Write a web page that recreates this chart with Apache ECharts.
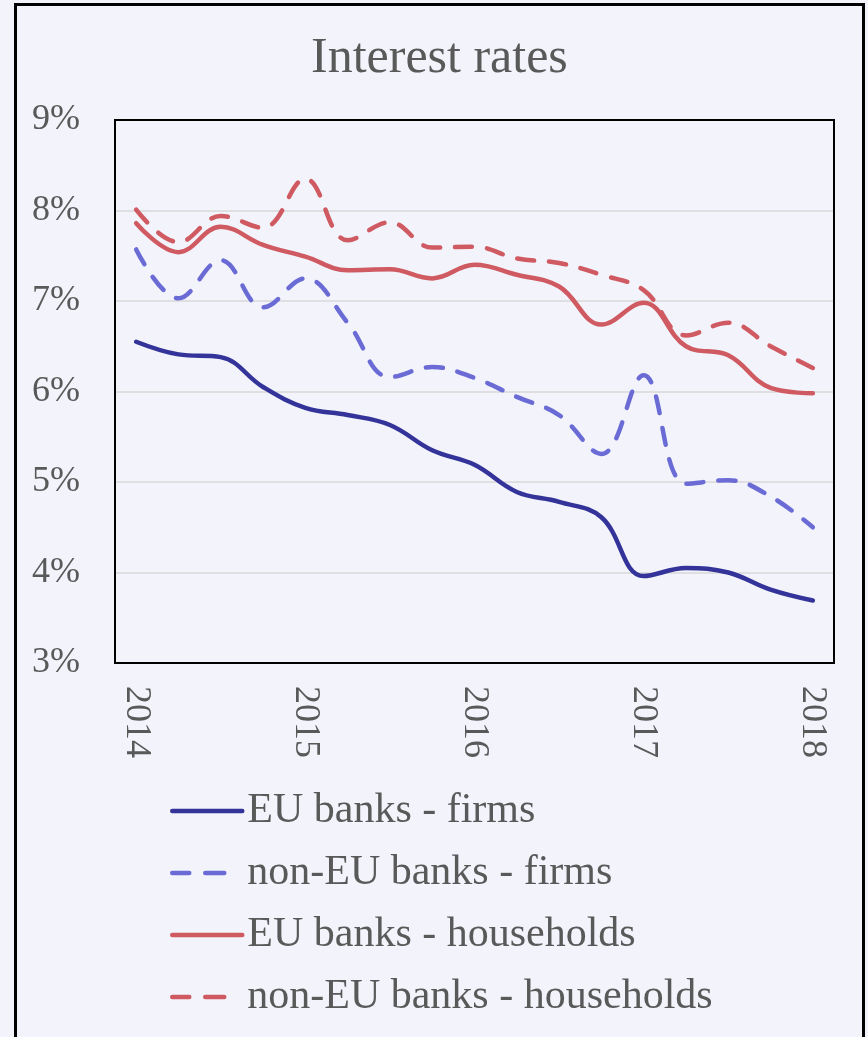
<!DOCTYPE html>
<html>
<head>
<meta charset="utf-8">
<script src="https://cdn.jsdelivr.net/npm/echarts@6/dist/echarts.min.js"></script>
<style>
html,body{margin:0;padding:0;background:#f2f3fb;}
#chart{width:868px;height:1037px;}
</style>
</head>
<body>
<div id="chart"></div>
<script>
const quarters = ["2014 Q1","2014 Q2","2014 Q3","2014 Q4","2015 Q1","2015 Q2","2015 Q3","2015 Q4","2016 Q1","2016 Q2","2016 Q3","2016 Q4","2017 Q1","2017 Q2","2017 Q3","2017 Q4","2018 Q1"];
const euFirms = [6.55,6.41,6.38,6.05,5.82,5.74,5.63,5.35,5.19,4.89,4.78,4.61,3.96,4.05,4.00,3.81,3.69];
const nonEuFirms = [7.57,7.03,7.45,6.93,7.25,6.76,6.16,6.27,6.15,5.94,5.74,5.31,6.18,4.98,5.02,4.84,4.50];
const euHouseholds = [7.86,7.54,7.82,7.62,7.49,7.34,7.35,7.25,7.40,7.29,7.16,6.74,6.98,6.50,6.40,6.04,5.98];
const nonEuHouseholds = [8.01,7.65,7.94,7.81,8.35,7.67,7.87,7.59,7.60,7.47,7.42,7.29,7.12,6.62,6.76,6.50,6.26];
const seriesNames = ["EU banks - firms","non-EU banks - firms","EU banks - households","non-EU banks - households"];

const FONT = "'Liberation Serif','Times New Roman',serif";
const TXT = '#595959';
const chart = echarts.init(document.getElementById('chart'), null, {renderer:'canvas'});
const dash = [17,15];
const legendDash = [17,16,19,100];
function line(name, data, color, dashed){
  return {
    name: name, type: 'line', data: data, smooth: 0.4, symbol: 'none',
    lineStyle: {color: color, width: 4.5, type: dashed ? dash : 'solid', cap: 'round'},
    itemStyle: {color: color}
  };
}
chart.setOption({
  backgroundColor: '#f2f3fb',
  animation: false,
  title: {
    text: 'Interest rates', left: 306, top: 29,
    textStyle: {fontFamily: FONT, fontSize: 50, fontWeight: 'normal', color: TXT}
  },
  graphic: [{
    type: 'rect', shape: {x: 15.5, y: 4.5, width: 848, height: 1040},
    style: {fill: 'none', stroke: '#000', lineWidth: 3}, z: 100
  }],
  grid: {left: 115, right: 34, top: 120, bottom: 374, show: true, borderColor: '#000', borderWidth: 2, backgroundColor: 'transparent', z: 10},
  legend: {
    orient: 'vertical', left: 170, top: 786, right: 'auto', bottom: 'auto', padding: 0,
    itemWidth: 70, itemHeight: 14, itemGap: 12,
    data: [
      {name: seriesNames[0]},
      {name: seriesNames[1], lineStyle: {type: legendDash}},
      {name: seriesNames[2]},
      {name: seriesNames[3], lineStyle: {type: legendDash}}
    ],
    itemStyle: {opacity: 0},
    lineStyle: {width: 4.5, cap: 'round'},
    textStyle: {fontFamily: FONT, fontSize: 42, color: TXT, lineHeight: 50}
  },
  xAxis: {
    type: 'category', data: quarters, boundaryGap: true,
    axisLine: {show: true, lineStyle: {color: '#000', width: 2}},
    axisTick: {show: false},
    splitLine: {show: false},
    axisLabel: {
      interval: 3, rotate: -90, margin: 23,
      fontFamily: FONT, fontSize: 36, color: TXT,
      formatter: v => v.slice(0,4)
    }
  },
  yAxis: {
    type: 'value', min: 3, max: 9, interval: 1,
    axisLine: {show: true, lineStyle: {color: '#000', width: 2}},
    axisTick: {show: false},
    splitLine: {show: true, showMinLine: false, showMaxLine: false, lineStyle: {color: '#d9d9d9', width: 1.5}},
    axisLabel: {formatter: '{value}%', margin: 35, fontFamily: FONT, fontSize: 36, color: TXT}
  },
  series: [
    line(seriesNames[0], euFirms, '#333399', false),
    line(seriesNames[1], nonEuFirms, '#6b6bd6', true),
    line(seriesNames[2], euHouseholds, '#d05a62', false),
    line(seriesNames[3], nonEuHouseholds, '#d05a62', true)
  ]
});
</script>
</body>
</html>
